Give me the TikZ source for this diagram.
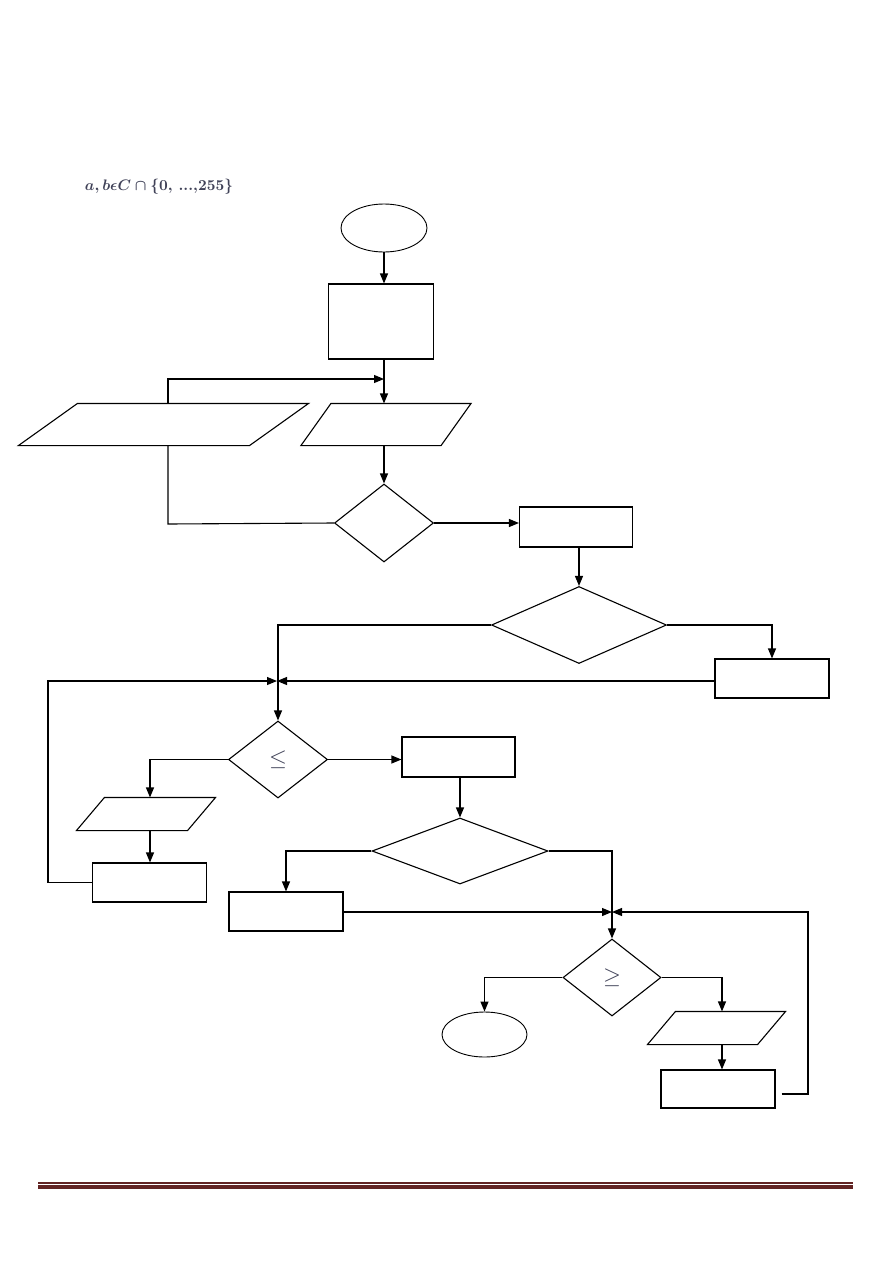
\documentclass[tikz,border=0pt]{standalone}
\usetikzlibrary{shapes.geometric,arrows.meta}
\definecolor{rulecol}{RGB}{98,36,35}
\definecolor{txtcol}{RGB}{64,66,88}
\newcommand{\mylabtext}{{\boldmath$a, b\epsilon C \cap \{0,\,{\ldotp}{\ldotp}{\ldotp}{,}255\}$}}
\begin{document}
\begin{tikzpicture}[x=1pt,y=-1pt,
  line width=1.1pt,
  base/.style={draw=black,line width=1.1pt,inner sep=0pt,fill=white},
  term/.style={base,ellipse,line width=0.9pt},
  proc/.style={base,rectangle},
  dec/.style={base,diamond,aspect=1},
  iobox/.style={inner sep=0pt,draw=none,rectangle},
  ioline/.style={draw=black,line width=1.1pt,fill=white},
  arr/.style={-{Triangle[length=10pt,width=8pt]}},
  sym/.style={text=txtcol,scale=2.3}
]
\useasboundingbox (0,0) rectangle (893,1263);

% label
\node[text=txtcol,scale=1.52,anchor=west] (lab) at (79,187) {\mylabtext};

% nodes
\node[term,minimum width=86pt,minimum height=48pt] (start) at (384,228) {};
\node[proc,minimum width=105pt,minimum height=75pt] (r1) at (381,321.5) {};
\node[iobox,minimum width=289pt,minimum height=41pt] (p1) at (163.5,424.5) {};
\draw[ioline] ([xshift=59pt]p1.north west) -- (p1.north east) -- ([xshift=-59pt]p1.south east) -- (p1.south west) -- cycle;
\node[iobox,minimum width=169pt,minimum height=41pt] (p2) at (386,424.5) {};
\draw[ioline] ([xshift=30pt]p2.north west) -- (p2.north east) -- ([xshift=-30pt]p2.south east) -- (p2.south west) -- cycle;
\node[dec,minimum width=99pt,minimum height=78pt] (d1) at (384,523) {};
\node[proc,minimum width=113pt,minimum height=40pt] (r2) at (576,527) {};
\node[dec,minimum width=175pt,minimum height=77pt] (d2) at (579,625) {};
\node[proc,minimum width=114pt,minimum height=39pt] (r3) at (772,678.5) {};
\node[dec,minimum width=99pt,minimum height=77pt] (d3) at (278,759.5) {};
\node[sym] (s3) at (d3) {$\leq$};
\node[iobox,minimum width=138pt,minimum height=32pt] (p3) at (146,814) {};
\draw[ioline] ([xshift=28pt]p3.north west) -- (p3.north east) -- ([xshift=-28pt]p3.south east) -- (p3.south west) -- cycle;
\node[proc,minimum width=114pt,minimum height=39pt] (r4) at (149.5,882.5) {};
\node[proc,minimum width=113pt,minimum height=40pt] (r5) at (458.5,757) {};
\node[dec,minimum width=176pt,minimum height=66pt] (d4) at (460,851) {};
\node[proc,minimum width=114pt,minimum height=39pt] (r6) at (286,911.5) {};
\node[dec,minimum width=98pt,minimum height=77pt] (d5) at (612,977.5) {};
\node[sym] (s5) at (d5) {$\geq$};
\node[term,minimum width=85pt,minimum height=45pt] (end) at (484.5,1034.5) {};
\node[iobox,minimum width=137pt,minimum height=32pt] (p4) at (716.5,1028) {};
\draw[ioline] ([xshift=28pt]p4.north west) -- (p4.north east) -- ([xshift=-28pt]p4.south east) -- (p4.south west) -- cycle;
\node[proc,minimum width=114pt,minimum height=38pt] (r7) at (718,1089) {};

% junction coordinates
\coordinate (c1) at (384,379);
\coordinate (l1) at (168,524);
\coordinate (l2) at (168,379);
\coordinate (j1) at (277,681);
\coordinate (lb) at (48,681);
\coordinate (j2) at (612,912);
\coordinate (rb) at (808,912);
\coordinate (a3) at (150,759.5);
\coordinate (a4) at (722,977.5);

% connectors
\draw[arr] (start.south) -- (start.south |- r1.north);
\draw[arr] (start.south |- r1.south) -- (start.south |- p2.north);
\draw (d1.west) -- (l1) -- (l1 |- p1.south);
\draw[arr] (l1 |- p1.north) -- (l2) -- (c1);
\draw[arr] (d1.north |- p2.south) -- (d1.north);
\draw[arr] (d1.east) -- (r2.west |- d1.east);
\draw[arr] (d2.north |- r2.south) -- (d2.north);
\draw[arr] (d2.east) -| (r3.north);
\draw[arr] (d2.west) -| (d3.north);
\draw[arr] (r3.west |- j1) -- (j1);
\draw[arr] (r4.west) -| (lb) -- (j1);
\draw[arr] (d3.west) -- (a3) -- (a3 |- p3.north);
\draw[arr] (d3.east) -- (r5.west |- d3.east);
\draw[arr] (a3 |- p3.south) -- (a3 |- r4.north);
\draw[arr] (d4.north |- r5.south) -- (d4.north);
\draw[arr] (d4.west) -| (r6.north);
\draw[arr] (d4.east) -| (d5.north);
\draw[arr] (r6.east |- j2) -- (j2);
\draw[arr] ([xshift=6pt,yshift=-5pt]r7.east) -| (rb) -- (j2);
\draw[arr] (d5.west) -| (end.north);
\draw[arr] (d5.east) -- (a4) -- (a4 |- p4.north);
\draw[arr] (a4 |- p4.south) -- (a4 |- r7.north);

% bottom rule
\coordinate (ruleL) at (38,1187);
\coordinate (ruleR) at (853,1187);
\draw[rulecol,line width=4pt] (ruleL) -- (ruleR);
\draw[rulecol,line width=1.5pt] ([yshift=4.2pt]ruleL) -- ([yshift=4.2pt]ruleR);
\end{tikzpicture}
\end{document}
